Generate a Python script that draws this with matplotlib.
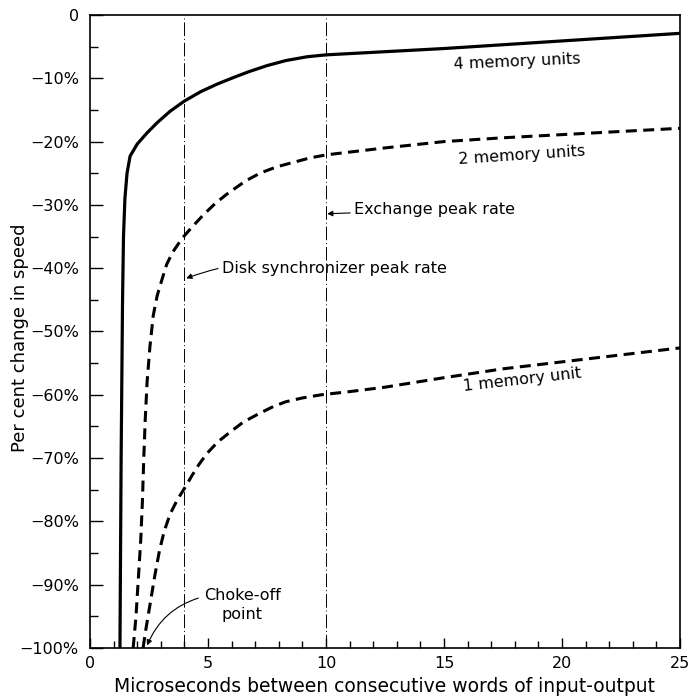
import matplotlib.pyplot as plt
from matplotlib.ticker import MultipleLocator

plt.rcParams['font.family'] = ['DejaVu Sans']

# curves (x in microseconds, y in per cent)
four_x = [1.27, 1.32, 1.38, 1.42, 1.48, 1.57, 1.7, 2.0, 2.4, 2.85, 3.4, 4.0, 4.7, 5.4,
          6.0, 6.7, 7.5, 8.3, 9.2, 10.0, 12.5, 15.0, 17.5, 20.0, 22.5, 25.0]
four_y = [-100, -70, -45, -35, -29, -25, -22.3, -20.4, -18.7, -17.0, -15.2, -13.6, -12.1, -10.9,
          -10.0, -9.0, -8.0, -7.2, -6.6, -6.3, -5.8, -5.3, -4.7, -4.1, -3.5, -2.9]

two_x = [1.83, 1.95, 2.05, 2.15, 2.22, 2.28, 2.34, 2.42, 2.54, 2.68, 2.85, 3.05, 3.25, 3.5,
         3.9, 4.3, 4.8, 5.3, 5.8, 6.6, 7.2, 7.9, 8.6, 9.3, 10.0, 12.5, 15.0, 17.5, 20.0, 22.5, 25.0]
two_y = [-100, -95, -89, -83, -77, -70, -64, -58, -52.4, -47.5, -44.3, -41.8, -39.4, -37.5,
         -35.3, -33.6, -31.6, -29.8, -28.3, -26.2, -25.0, -24.0, -23.3, -22.6, -22.1, -21.0,
         -20.0, -19.4, -18.9, -18.4, -17.9]

one_x = [2.25, 2.37, 2.55, 2.75, 2.95, 3.15, 3.4, 3.7, 4.0, 4.3, 4.6, 4.95, 5.4, 5.9, 6.5,
         7.2, 7.8, 8.3, 9.0, 9.8, 11.0, 12.5, 15.0, 17.5, 20.0, 22.5, 25.0]
one_y = [-100, -97.0, -93.0, -88.5, -84.5, -81.5, -78.8, -76.6, -74.8, -72.9, -71.1, -69.3,
         -67.5, -66.0, -64.3, -62.9, -61.8, -61.1, -60.5, -60.0, -59.5, -58.8, -57.3, -55.9,
         -54.8, -53.7, -52.6]

peak_rates = [4, 10]
ytick_vals = [0, -10, -20, -30, -40, -50, -60, -70, -80, -90, -100]
ytick_labels = ['0'] + ['\u2212%d%%' % (-v) for v in ytick_vals[1:]]

fig = plt.figure(figsize=(6.9, 7.0), dpi=100)
ax = fig.add_axes([0.1304, 0.0743, 0.8551, 0.9043])

ax.plot(four_x, four_y, color='black', lw=2.3, solid_capstyle='butt')
ax.plot(two_x, two_y, color='black', lw=2.2, linestyle=(0, (3.6, 2.1)))
ax.plot(one_x, one_y, color='black', lw=2.2, linestyle=(0, (3.6, 2.1)))

for xv in peak_rates:
    ax.axvline(xv, color='black', lw=0.7, linestyle=(0, (14, 3, 1, 3)))

ax.set_xlim(0, 25)
ax.set_ylim(-100, 0)
ax.xaxis.set_major_locator(MultipleLocator(5))
ax.xaxis.set_minor_locator(MultipleLocator(1))
ax.set_yticks(ytick_vals)
ax.set_yticklabels(ytick_labels)
ax.yaxis.set_minor_locator(MultipleLocator(5))
ax.tick_params(axis='both', which='both', direction='in', labelsize=11.5, width=1)
ax.tick_params(axis='y', which='major', length=9, pad=8)
ax.tick_params(axis='y', which='minor', length=6)
ax.tick_params(axis='x', which='major', length=7, pad=6)
ax.tick_params(axis='x', which='minor', length=5)
for s in ax.spines.values():
    s.set_linewidth(1.2)

ax.set_xlabel('Microseconds between consecutive words of input-output', fontsize=13.5)
ax.xaxis.set_label_coords(0.5, -0.046)
ax.set_ylabel('Per cent change in speed', fontsize=13)
ax.yaxis.set_label_coords(-0.104, 0.49)

# curve labels
ax.text(18.1, -7.4, '4 memory units', fontsize=11.5, ha='center', va='center', rotation=2.5)
ax.text(18.3, -22.1, '2 memory units', fontsize=11.5, ha='center', va='center', rotation=3.8)
ax.text(18.3, -57.6, '1 memory unit', fontsize=11.5, ha='center', va='center', rotation=6.5)

# peak rate / choke-off annotations
ax.annotate('Exchange peak rate', xy=(10.05, -31.4), xytext=(11.2, -30.8),
            fontsize=11.5, ha='left', va='center',
            arrowprops=dict(arrowstyle='-|>', color='black', lw=0.8, mutation_scale=8,
                            shrinkA=1, shrinkB=0))
ax.annotate('Disk synchronizer peak rate', xy=(4.08, -41.6), xytext=(5.6, -40.0),
            fontsize=11.5, ha='left', va='center',
            arrowprops=dict(arrowstyle='-|>', color='black', lw=0.8, mutation_scale=8,
                            shrinkA=1, shrinkB=0, connectionstyle='arc3,rad=0.15'))
ax.annotate('Choke-off\npoint', xy=(2.42, -99.6), xytext=(6.45, -93.2),
            fontsize=11.5, ha='center', va='center', linespacing=1.3,
            arrowprops=dict(arrowstyle='-|>', color='black', lw=0.8, mutation_scale=8,
                            shrinkA=2, shrinkB=0, connectionstyle='arc3,rad=0.25',
                            relpos=(0.0, 0.75)))

fig.savefig('out.png', dpi=100)
